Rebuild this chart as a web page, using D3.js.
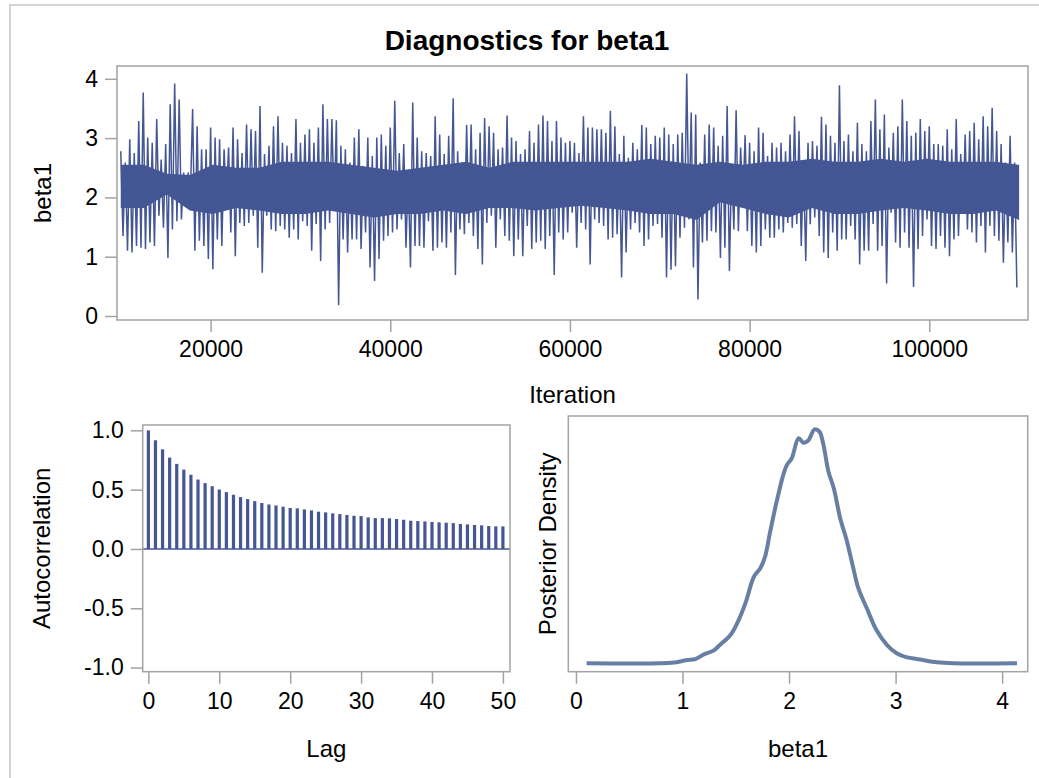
<!DOCTYPE html>
<html>
<head>
<meta charset="utf-8">
<script src="https://cdn.jsdelivr.net/npm/d3@7"></script>
<style>
  body { margin: 0; background: #fff; }
  text { font-family: "Liberation Sans", Arial, sans-serif; fill: #000; }
  .lbl { font-size: 24px; }
</style>
</head>
<body>
<svg id="chart" width="1039" height="778"></svg>
<script>
// trace: max / min of beta1 within each block of 500 iterations
var traceStart = 10000;
var traceEnd = 110000;
var traceStep = 500;
var traceHi = [2.78,2.59,2.98,2.75,3.29,3.77,3.01,2.92,3.32,2.64,2.90,3.57,3.92,3.65,2.42,2.42,3.49,3.20,2.81,2.81,
  3.18,3.01,2.98,2.81,2.84,3.18,2.98,2.75,3.23,3.15,3.12,3.54,2.73,2.87,3.20,3.37,2.92,2.87,2.75,3.32,
  2.92,3.06,3.15,2.92,3.18,3.57,3.32,3.32,3.30,2.87,
  2.81,2.59,3.01,3.15,2.53,3.01,2.70,3.01,3.06,2.87,3.18,3.63,2.75,2.90,2.42,3.60,3.01,2.78,2.75,2.70,
  3.37,3.06,2.73,3.04,3.67,2.78,2.59,3.22,3.23,2.81,3.09,3.34,3.20,3.09,2.81,2.84,3.38,3.01,2.95,2.73,
  2.81,3.12,2.92,3.23,3.38,3.29,2.95,3.29,3.01,2.92,2.95,
  2.92,2.75,3.37,3.18,3.18,3.15,3.15,3.09,3.46,3.20,2.73,3.04,2.67,2.92,2.81,3.22,3.18,2.90,3.04,3.01,
  3.18,3.06,2.90,3.06,3.09,4.09,3.43,3.40,2.59,3.06,3.23,3.18,2.87,3.04,3.54,2.56,3.47,2.84,3.05,2.92,
  2.78,3.18,3.09,2.70,2.92,2.84,2.92,2.78,3.06,3.37,3.12,
  2.59,2.92,2.95,2.87,3.36,3.23,3.04,2.92,3.89,2.95,3.06,2.78,3.26,2.90,2.78,3.29,3.65,3.15,3.40,2.84,
  3.09,3.20,3.65,3.29,3.04,3.09,3.32,3.12,3.20,2.90,2.90,2.87,3.15,2.81,3.32,2.73,3.06,3.12,3.26,2.98,
  3.37,3.20,3.51,3.12,2.90,2.59,3.04,2.59];
var traceLo = [1.35,1.10,1.07,1.18,1.15,1.13,1.24,1.18,1.69,1.49,0.98,1.46,1.60,1.63,1.97,2.05,1.10,1.27,1.18,0.96,
  0.79,1.29,1.18,1.91,1.41,1.01,1.57,1.52,1.57,1.69,1.15,0.73,1.69,1.46,1.43,1.52,1.46,1.32,1.46,1.29,
  1.60,1.52,1.10,1.55,0.93,1.46,1.57,1.80,0.18,1.29,
  1.07,1.29,1.29,1.13,1.41,0.82,0.59,0.96,1.27,1.35,1.41,1.46,1.63,1.15,0.82,1.18,1.18,1.15,1.60,1.10,
  1.15,1.24,1.15,1.41,0.69,1.46,1.38,1.57,1.35,1.13,0.87,1.57,1.69,1.15,1.63,1.35,1.27,1.01,1.29,1.01,
  1.52,1.13,1.24,1.27,1.13,1.35,0.69,1.41,1.29,1.41,1.74,
  1.15,1.57,1.46,0.87,1.63,1.57,1.52,1.29,1.32,1.38,0.65,1.07,1.46,1.57,1.41,1.18,1.29,1.52,1.55,1.32,
  0.65,0.78,0.84,1.32,1.49,1.63,0.82,0.28,1.24,1.27,1.43,1.41,0.98,1.15,0.76,1.46,1.43,1.91,1.43,1.18,
  1.07,1.18,1.46,1.32,1.32,1.46,1.41,1.57,1.49,1.55,1.18,
  0.93,1.55,1.66,1.35,1.07,0.98,1.41,1.10,1.29,1.29,1.52,1.29,0.87,1.10,1.10,1.55,1.10,1.18,0.55,1.74,
  1.24,1.15,1.41,1.15,0.49,1.13,1.35,1.63,1.18,1.13,1.35,1.15,1.01,1.29,1.35,1.80,1.46,1.41,1.24,1.52,
  1.07,1.52,1.35,1.27,0.90,1.24,1.07,0.48];

// solid inner part of the trace, 40 readings spread evenly over the run
var coreHi = [2.55,2.55,2.40,2.38,2.55,2.50,2.50,2.60,2.60,2.60,2.55,2.50,2.45,2.50,2.55,2.60,2.50,2.60,2.60,2.60,
  2.60,2.60,2.60,2.65,2.60,2.55,2.60,2.55,2.60,2.60,2.65,2.60,2.60,2.65,2.60,2.65,2.60,2.60,2.60,2.55];
var coreLo = [1.82,1.82,2.05,1.78,1.72,1.82,1.78,1.72,1.72,1.78,1.72,1.66,1.72,1.72,1.78,1.72,1.82,1.82,1.78,1.82,
  1.86,1.82,1.78,1.72,1.72,1.62,1.92,1.82,1.72,1.66,1.82,1.72,1.72,1.78,1.82,1.78,1.72,1.72,1.78,1.62];

// autocorrelation by lag
var acfLag = d3.range(0, 51);
var acfVal = [1.000,0.916,0.840,0.770,0.717,0.669,0.625,0.585,0.555,0.529,
  0.501,0.479,0.457,0.437,0.420,0.403,0.387,0.375,0.367,0.356,
  0.345,0.342,0.333,0.325,0.314,0.308,0.300,0.294,0.286,0.280,
  0.277,0.266,0.260,0.260,0.258,0.252,0.246,0.238,0.235,0.232,
  0.227,0.224,0.221,0.218,0.210,0.207,0.202,0.199,0.193,0.190,0.190];

// kernel density (scaled so the peak is 1, no axis shown)
var densX = [0.10,0.79,0.945,1.04,1.12,1.21,1.29,1.35,1.45,1.52,1.59,1.67,1.73,1.775,1.82,1.88,1.95,1.98,2.025,2.09,
  2.135,2.18,2.24,2.285,2.32,2.37,2.42,2.48,2.54,2.60,2.65,2.73,2.82,2.92,3.01,3.10,3.23,3.39,3.54,4.14];
var densY = [0,0,0.004,0.014,0.018,0.040,0.054,0.078,0.121,0.178,0.256,0.370,0.406,0.456,0.556,0.684,0.812,0.848,0.876,0.962,
  0.943,0.952,1.000,0.990,0.940,0.819,0.748,0.620,0.527,0.413,0.321,0.235,0.142,0.078,0.043,0.026,0.016,0.004,0,0];

var traceTicks = [20000, 40000, 60000, 80000, 100000];
var traceTicksY = [0, 1, 2, 3, 4];
var acfTicksY = [-1.0, -0.5, 0.0, 0.5, 1.0];
var acfTicksX = [0, 10, 20, 30, 40, 50];
var densTicks = [0, 1, 2, 3, 4];

var blue = "#445694";
var fitBlue = "#667fa2";
var frameCol = "#a3a3a3";

var svg = d3.select("#chart");

// outer border of the panel
svg.append("path")
    .attr("d", "M10,778V5H1039")
    .attr("fill", "none")
    .attr("stroke", "#d4d4d4")
    .attr("stroke-width", 2);

svg.append("text")
    .attr("x", 527)
    .attr("y", 50)
    .attr("text-anchor", "middle")
    .style("font-size", "28px")
    .style("font-weight", "bold")
    .text("Diagnostics for beta1");

function styleAxis(g) {
    g.select(".domain").remove();
    g.selectAll(".tick line").attr("stroke", frameCol).attr("stroke-width", 1.5);
    g.selectAll(".tick text").style("font-size", "23px").attr("fill", "#000");
}

function frame(x0, y0, x1, y1) {
    svg.append("rect")
        .attr("x", x0).attr("y", y0)
        .attr("width", x1 - x0).attr("height", y1 - y0)
        .attr("fill", "none")
        .attr("stroke", frameCol)
        .attr("stroke-width", 1.5);
}

// hyphen rather than unicode minus, as in the original
var fmt1 = function(d) { return d.toFixed(1); };

// ---- trace plot ----
var tL = 117, tR = 1028, tT = 66, tB = 320;
var xT = d3.scaleLinear().domain([9580, 110990]).range([tL, tR]);
var yT = d3.scaleLinear().domain([-0.067, 4.216]).range([tB, tT]);

var coreX = d3.scaleLinear().domain([0, coreHi.length - 1]).range([traceStart, traceEnd]);

svg.append("path")
    .datum(coreHi)
    .attr("fill", blue)
    .attr("d", d3.area()
        .x(function(d, i) { return xT(coreX(i)); })
        .y0(function(d, i) { return yT(coreLo[i]); })
        .y1(function(d) { return yT(d); }));

var tracePts = [];
for (var i = 0; i < traceHi.length; i++) {
    var it = traceStart + i * traceStep;
    tracePts.push([it, traceHi[i]]);
    tracePts.push([it + traceStep / 2, traceLo[i]]);
}

svg.append("path")
    .datum(tracePts)
    .attr("fill", "none")
    .attr("stroke", blue)
    .attr("stroke-width", 1.5)
    .attr("d", d3.line().x(function(d) { return xT(d[0]); }).y(function(d) { return yT(d[1]); }));

frame(tL, tT, tR, tB);

svg.append("g")
    .attr("transform", "translate(" + tL + ",0)")
    .call(d3.axisLeft(yT).tickValues(traceTicksY).tickFormat(d3.format("d")).tickSizeInner(12).tickPadding(7))
    .call(styleAxis);

svg.append("g")
    .attr("transform", "translate(0," + tB + ")")
    .call(d3.axisBottom(xT).tickValues(traceTicks).tickFormat(d3.format("d")).tickSizeInner(12).tickPadding(9))
    .call(styleAxis);

svg.append("text").attr("class", "lbl")
    .attr("x", (tL + tR) / 2).attr("y", 403)
    .attr("text-anchor", "middle").text("Iteration");

svg.append("text").attr("class", "lbl")
    .attr("transform", "translate(51," + ((tT + tB) / 2) + ") rotate(-90)")
    .attr("text-anchor", "middle").text("beta1");

// ---- autocorrelation ----
var aL = 142.7, aR = 510, aT = 425, aB = 671.7;
var xA = d3.scaleLinear().domain([-0.8, 51]).range([aL, aR]);
var yA = d3.scaleLinear().domain([-1.035, 1.045]).range([aB, aT]);

svg.append("g").selectAll("rect")
    .data(acfLag)
    .enter().append("rect")
    .attr("x", function(d) { return xA(d) - 1.6; })
    .attr("width", 3.2)
    .attr("y", function(d, i) { return yA(acfVal[i]); })
    .attr("height", function(d, i) { return yA(0) - yA(acfVal[i]); })
    .attr("fill", blue);

svg.append("line")
    .attr("x1", aL).attr("x2", aR)
    .attr("y1", yA(0)).attr("y2", yA(0))
    .attr("stroke", blue).attr("stroke-width", 1.5);

frame(aL, aT, aR, aB);

svg.append("g")
    .attr("transform", "translate(" + aL + ",0)")
    .call(d3.axisLeft(yA).tickValues(acfTicksY).tickFormat(fmt1).tickSizeInner(12).tickPadding(7))
    .call(styleAxis);

svg.append("g")
    .attr("transform", "translate(0," + aB + ")")
    .call(d3.axisBottom(xA).tickValues(acfTicksX).tickFormat(d3.format("d")).tickSizeInner(12).tickPadding(9))
    .call(styleAxis);

svg.append("text").attr("class", "lbl")
    .attr("x", (aL + aR) / 2).attr("y", 757)
    .attr("text-anchor", "middle").text("Lag");

svg.append("text").attr("class", "lbl")
    .attr("transform", "translate(50," + ((aT + aB) / 2) + ") rotate(-90)")
    .attr("text-anchor", "middle").text("Autocorrelation");

// ---- posterior density ----
var dL = 568.3, dR = 1027.7, dT = 416, dB = 671.7;
var xD = d3.scaleLinear().domain([-0.072, 4.24]).range([dL, dR]);
var yD = d3.scaleLinear().domain([-0.036, 1.057]).range([dB, dT]);

svg.append("path")
    .datum(densX)
    .attr("fill", "none")
    .attr("stroke", fitBlue)
    .attr("stroke-width", 4)
    .attr("stroke-linejoin", "round")
    .attr("d", d3.line()
        .curve(d3.curveCatmullRom)
        .x(function(d) { return xD(d); })
        .y(function(d, i) { return yD(densY[i]); }));

frame(dL, dT, dR, dB);

svg.append("g")
    .attr("transform", "translate(0," + dB + ")")
    .call(d3.axisBottom(xD).tickValues(densTicks).tickFormat(d3.format("d")).tickSizeInner(12).tickPadding(9))
    .call(styleAxis);

svg.append("text").attr("class", "lbl")
    .attr("x", (dL + dR) / 2).attr("y", 757)
    .attr("text-anchor", "middle").text("beta1");

svg.append("text").attr("class", "lbl")
    .attr("transform", "translate(556," + ((dT + dB) / 2) + ") rotate(-90)")
    .attr("text-anchor", "middle").text("Posterior Density");
</script>
</body>
</html>
